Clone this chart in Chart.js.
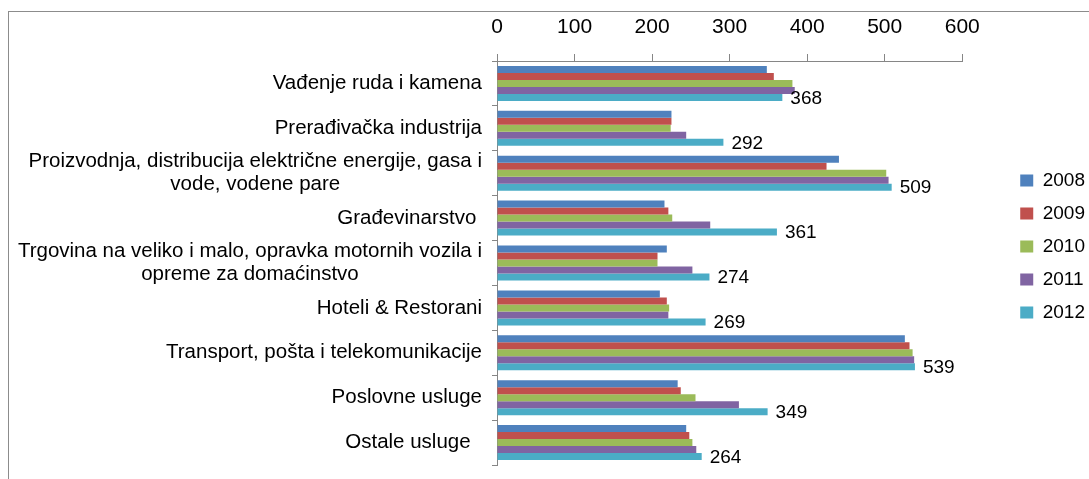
<!DOCTYPE html>
<html>
<head>
<meta charset="utf-8">
<script src="https://cdn.jsdelivr.net/npm/chart.js@4"></script>
<style>
  html, body { margin: 0; padding: 0; background: #fff; }
</style>
</head>
<body>
<canvas id="chart" width="1089" height="479"></canvas>
<script>
// categories (multi-line ones split the way the original wraps them)
const categories = [
  ["Vađenje ruda i kamena"],
  ["Prerađivačka industrija"],
  ["Proizvodnja, distribucija električne energije, gasa i", "vode, vodene pare"],
  ["Građevinarstvo "],
  ["Trgovina na veliko i malo, opravka motornih vozila i", "opreme za domaćinstvo"],
  ["Hoteli & Restorani"],
  ["Transport, pošta i telekomunikacije"],
  ["Poslovne usluge"],
  ["Ostale usluge  "]
];
const years = ["2008", "2009", "2010", "2011", "2012"];
const values2008 = [348, 225, 441, 216, 219, 210, 526, 233, 244];
const values2009 = [357, 225, 425, 221, 207, 219, 532, 237, 248];
const values2010 = [381, 224, 502, 226, 207, 222, 536, 256, 252];
const values2011 = [384, 244, 505, 275, 252, 221, 538, 312, 257];
const values2012 = [368, 292, 509, 361, 274, 269, 539, 349, 264];
const xMin = 0, xMax = 600, xStep = 100;

const seriesValues = [values2008, values2009, values2010, values2011, values2012];
const colors = ["#4F81BD", "#C0504D", "#9BBB59", "#8064A2", "#4BACC6"];
const FONT = "'Liberation Sans', Arial, sans-serif";

// outer frame of the chart
const frame = {
  id: "frame",
  beforeDraw(chart) {
    const ctx = chart.ctx;
    ctx.save();
    ctx.strokeStyle = "#8c8c8c";
    ctx.lineWidth = 1;
    ctx.strokeRect(8.5, 11.5, chart.width, chart.height);
    ctx.restore();
  }
};

// category labels: block right aligned to the axis, lines centered in it
const categoryLabels = {
  id: "categoryLabels",
  afterDraw(chart) {
    const ctx = chart.ctx;
    const y = chart.scales.y;
    ctx.save();
    ctx.font = "20.5px " + FONT;
    ctx.fillStyle = "#000";
    ctx.textAlign = "center";
    ctx.textBaseline = "middle";
    categories.forEach((lines, i) => {
      const cy = y.getPixelForValue(i);
      const w = Math.max(...lines.map(l => ctx.measureText(l).width));
      const cx = y.right - 15 - w / 2;
      lines.forEach((line, j) => {
        ctx.fillText(line, cx, cy + (j - (lines.length - 1) / 2) * 23);
      });
    });
    ctx.restore();
  }
};

// value labels on the 2012 bars only
const valueLabels = {
  id: "valueLabels",
  afterDatasetsDraw(chart) {
    const ctx = chart.ctx;
    const meta = chart.getDatasetMeta(4);
    ctx.save();
    ctx.font = "19px " + FONT;
    ctx.fillStyle = "#000";
    ctx.textAlign = "left";
    ctx.textBaseline = "middle";
    meta.data.forEach((bar, i) => {
      ctx.fillText(values2012[i], bar.x + 8, bar.y + 1);
    });
    ctx.restore();
  }
};

new Chart(document.getElementById("chart"), {
  type: "bar",
  data: {
    labels: categories.map(c => c.join(" ").trim()),
    datasets: years.map((year, i) => ({
      label: year,
      data: seriesValues[i],
      backgroundColor: colors[i],
      borderColor: colors[i],
      borderWidth: 0,
      categoryPercentage: 0.78,
      barPercentage: 1
    }))
  },
  options: {
    indexAxis: "y",
    responsive: false,
    animation: false,
    devicePixelRatio: 1,
    layout: { padding: { top: 14, right: -6, bottom: 0, left: 0 } },
    scales: {
      x: {
        type: "linear",
        position: "top",
        min: xMin,
        max: xMax,
        ticks: { stepSize: xStep, padding: 14, color: "#000", font: { family: FONT, size: 21 } },
        grid: { drawOnChartArea: false, tickLength: 7, color: "#868686" },
        border: { color: "#868686" },
        afterFit(scale) { scale.height = 47; }
      },
      y: {
        ticks: { display: false },
        grid: { drawOnChartArea: false, tickLength: 5, color: "#868686", offset: true },
        border: { color: "#868686" },
        afterFit(scale) { scale.width = 497; }
      },
      gapRight: {
        axis: "y",
        type: "linear",
        position: "right",
        ticks: { display: false },
        grid: { display: false },
        border: { display: false },
        afterFit(scale) { scale.width = 44; }
      },
      gapBottom: {
        axis: "x",
        type: "linear",
        position: "bottom",
        ticks: { display: false },
        grid: { display: false },
        border: { display: false },
        afterFit(scale) { scale.height = 14; }
      }
    },
    plugins: {
      legend: {
        position: "right",
        align: "center",
        labels: { boxWidth: 13, boxHeight: 12, padding: 14, color: "#000", font: { family: FONT, size: 19 } }
      },
      tooltip: { enabled: false }
    }
  },
  plugins: [frame, categoryLabels, valueLabels]
});
</script>
</body>
</html>
